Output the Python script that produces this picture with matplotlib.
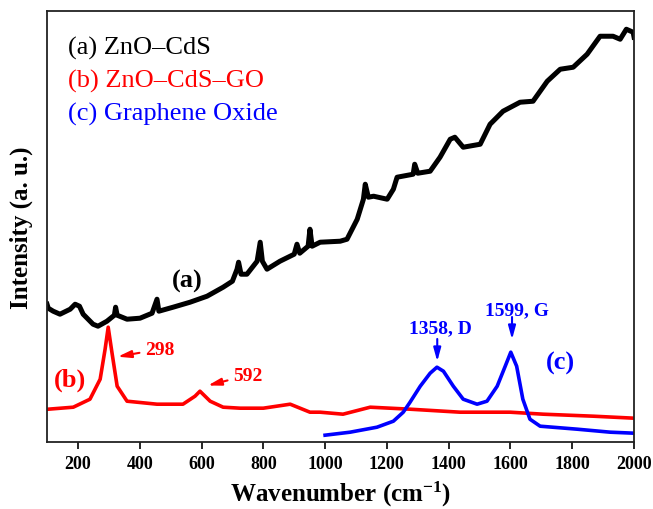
#!/usr/bin/env python3
"""Raman spectra of ZnO-CdS, ZnO-CdS-GO and graphene oxide."""

import matplotlib
matplotlib.use("Agg")
import matplotlib.pyplot as plt

plt.rcParams["font.family"] = ["Liberation Serif", "DejaVu Serif"]
plt.rcParams["mathtext.fontset"] = "custom"
plt.rcParams["mathtext.rm"] = "Liberation Serif"
plt.rcParams["mathtext.bf"] = "Liberation Serif:bold"
plt.rcParams["mathtext.default"] = "bf"

# (a) ZnO-CdS (arbitrary intensity units)
wn_a = [100, 104, 120, 142, 175, 191, 205, 217, 249, 265, 294, 318, 322, 327,
        359, 401, 440, 456, 462, 508, 563, 618, 670, 700, 715, 720, 728, 747,
        780, 790, 797, 812, 854, 900, 909, 918, 945, 951, 958, 984, 1049, 1071,
        1104, 1124, 1130, 1140, 1157, 1201, 1221, 1233, 1285, 1290, 1300, 1340,
        1372, 1405, 1420, 1447, 1502, 1534, 1576, 1631, 1673, 1719, 1761, 1803,
        1848, 1890, 1932, 1955, 1975, 1997, 2000]
int_a = [138, 134, 131, 128, 133, 138, 136, 128, 118, 116, 121, 127, 135, 127,
         123, 124, 129, 143, 131, 135, 140, 146, 155, 161, 173, 180, 168, 168,
         181, 200, 181, 173, 181, 188, 198, 189, 196, 213, 196, 200, 201, 203,
         223, 243, 258, 245, 246, 243, 253, 265, 268, 278, 269, 271,
         285, 303, 305, 295, 298, 318, 331, 340, 341, 361, 373, 375,
         388, 406, 406, 403, 413, 410, 405]

# (b) ZnO-CdS-GO
wn_b = [100, 104, 185, 239, 272, 288, 298, 310, 327, 359, 456, 540, 579, 595,
        628, 670, 725, 800, 887, 951, 984, 1058, 1146, 1275, 1437, 1599, 1706,
        1868, 2000]
int_b = [33, 33, 35, 43, 63, 93, 115, 90, 56, 41, 38, 38, 46, 51,
         41, 35, 34, 34, 38, 30, 30, 28, 35, 33, 30, 30, 28,
         26, 24]

# (c) Graphene oxide
wn_c = [1000, 1081, 1168, 1221, 1253, 1275, 1308, 1340, 1362, 1383, 1415,
        1447, 1492, 1524, 1557, 1583, 1601, 1620, 1640, 1663, 1696, 1816,
        1923, 2000]
int_c = [7, 10, 15, 21, 30, 40, 56, 69, 75, 71, 56,
         43, 38, 41, 56, 76, 90, 76, 43, 23, 16, 13,
         10, 9]

legend_labels = ["(a) ZnO\u2013CdS", "(b) ZnO\u2013CdS\u2013GO", "(c) Graphene Oxide"]
colors = ["black", "#ff0000", "#0000ff"]


def main():
    fig = plt.figure(figsize=(6.53, 5.10), dpi=100)
    ax = fig.add_axes([0.072, 0.131, 0.899, 0.845])

    ax.plot(wn_a, int_a, color=colors[0], lw=3.6, solid_joinstyle="round")
    ax.plot(wn_b, int_b, color=colors[1], lw=2.6, solid_joinstyle="round")
    ax.plot(wn_c, int_c, color=colors[2], lw=2.6, solid_joinstyle="round")

    ax.set_xlim(100, 2000)
    ax.set_ylim(0, 431)
    ax.set_xticks([200, 400, 600, 800, 1000, 1200, 1400, 1600, 1800, 2000])
    ax.set_yticks([])
    ax.tick_params(axis="x", direction="out", length=5, width=1.2,
                   labelsize=13, pad=4)
    for lab in ax.get_xticklabels():
        lab.set_fontweight("bold")
    for sp in ax.spines.values():
        sp.set_linewidth(1.3)
        sp.set_color("#222222")

    ax.set_xlabel("Wavenumber (cm$^{-1}$)", fontsize=18, fontweight="bold",
                  labelpad=5)
    ax.set_ylabel("Intensity (a. u.)", fontsize=18, fontweight="bold",
                  labelpad=10)

    # legend-like text block
    for i, (txt, c) in enumerate(zip(legend_labels, colors)):
        ax.text(0.036, 0.917 - i * 0.077, txt, color=c, fontsize=19,
                transform=ax.transAxes, ha="left", va="center")

    # curve labels
    ax.text(553, 162, "(a)", color=colors[0], fontsize=19, fontweight="bold",
            ha="center", va="center")
    ax.text(174, 63, "(b)", color=colors[1], fontsize=19, fontweight="bold",
            ha="center", va="center")
    ax.text(1761, 80, "(c)", color=colors[2], fontsize=19, fontweight="bold",
            ha="center", va="center")

    arrow_kw = dict(arrowstyle="-|>,head_length=0.8,head_width=0.22",
                    lw=1.5, mutation_scale=10)
    ax.annotate("298", xy=(320, 85), xytext=(417, 93), color=colors[1],
                fontsize=14, fontweight="bold", ha="left", va="center",
                arrowprops=dict(color=colors[1], **arrow_kw))
    ax.annotate("592", xy=(612, 56), xytext=(702, 67), color=colors[1],
                fontsize=14, fontweight="bold", ha="left", va="center",
                arrowprops=dict(color=colors[1], **arrow_kw))
    ax.annotate("", xy=(1363, 78), xytext=(1363, 106),
                arrowprops=dict(color=colors[2], **arrow_kw))
    ax.text(1372, 114, "1358, D", color=colors[2], fontsize=14,
            fontweight="bold", ha="center", va="center")
    ax.annotate("", xy=(1605, 100), xytext=(1605, 128),
                arrowprops=dict(color=colors[2], **arrow_kw))
    ax.text(1622, 132, "1599, G", color=colors[2], fontsize=14,
            fontweight="bold", ha="center", va="center")

    fig.savefig("out.png", dpi=100)


if __name__ == "__main__":
    main()
